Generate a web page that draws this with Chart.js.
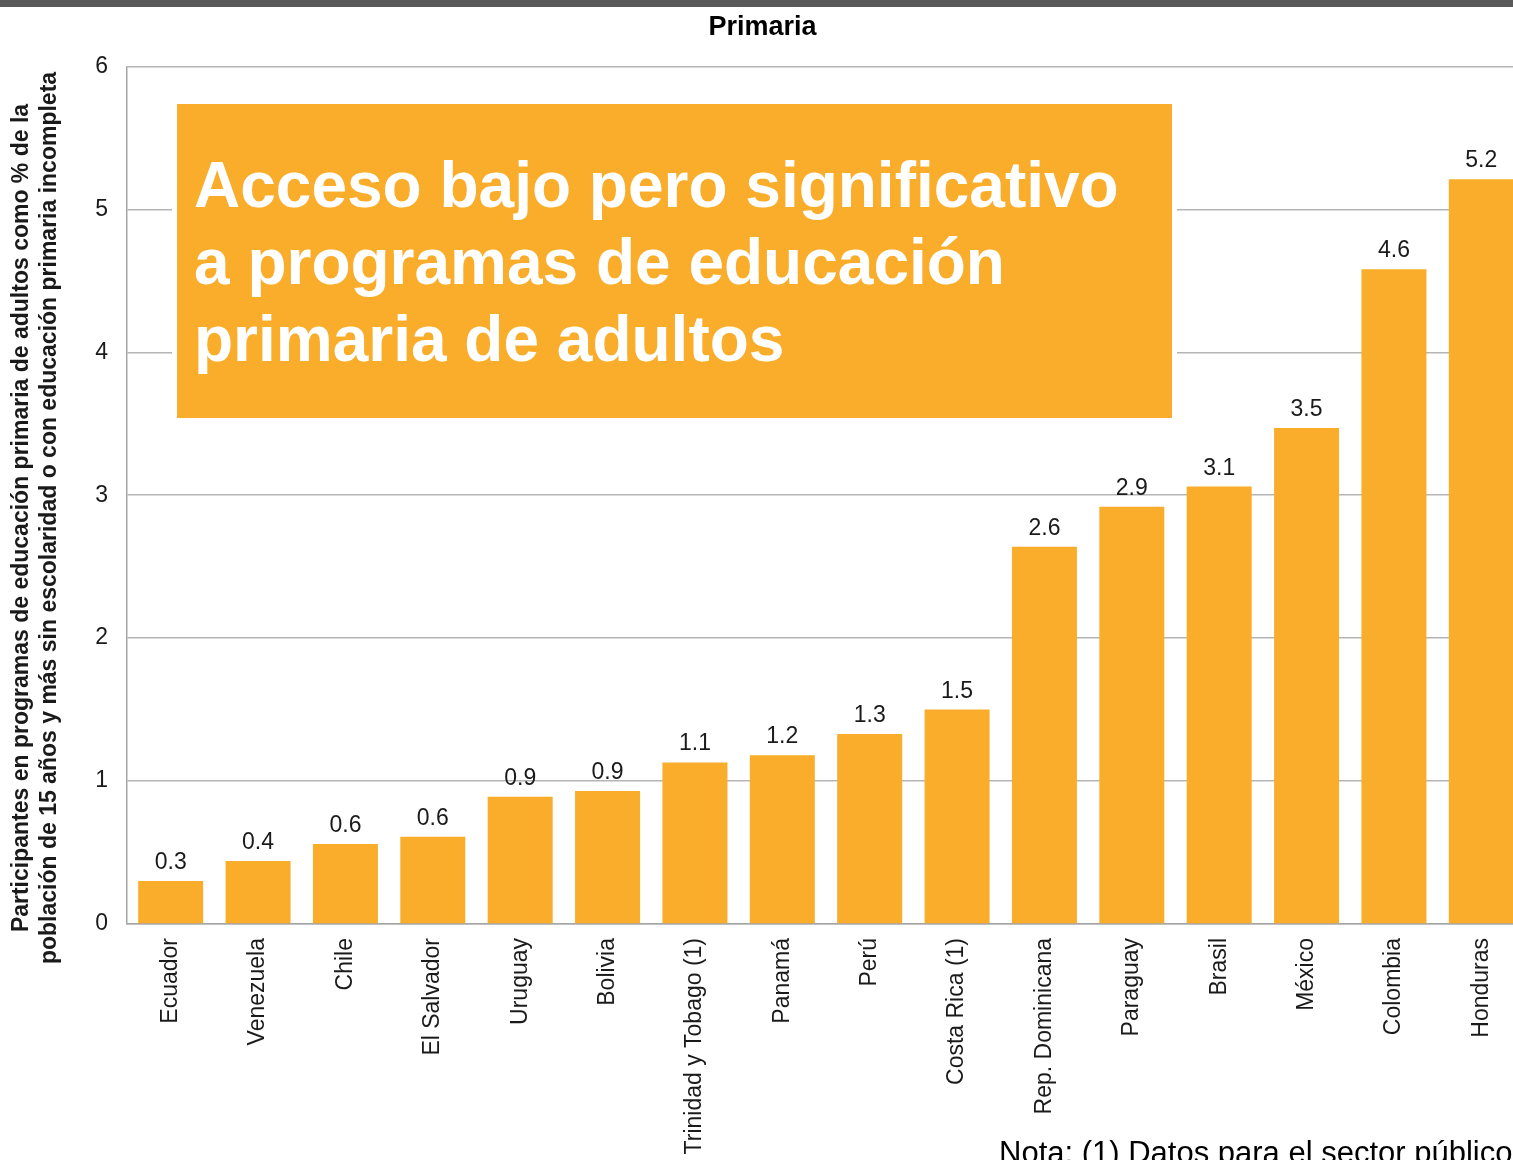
<!DOCTYPE html>
<html>
<head>
<meta charset="utf-8">
<script src="https://cdn.jsdelivr.net/npm/chart.js@4"></script>
<style>
  html, body { margin: 0; padding: 0; overflow: hidden; background: #fff; }
  #wrap { position: absolute; left: 0; top: 0; width: 1530px; height: 1160px; overflow: hidden; }
  #c { position: absolute; left: 0; top: 0; }
  #box {
    position: absolute; left: 177px; top: 104px; width: 995px; height: 314px;
    background: #F9AD2A; box-shadow: 0 0 0 5px #ffffff;
    box-sizing: border-box; padding: 43px 0 0 17px;
    font-family: "Liberation Sans", Arial, sans-serif; font-weight: bold;
    font-size: 64px; line-height: 77px; color: #ffffff; white-space: nowrap;
  }
  #note {
    position: absolute; left: 999px; top: 1137px;
    font-family: "Liberation Sans", Arial, sans-serif; font-size: 31px; line-height: 31px;
    color: #000; white-space: nowrap;
  }
</style>
</head>
<body>
<div id="wrap">
  <canvas id="c" width="1530" height="1160"></canvas>
  <div id="box">Acceso bajo pero significativo<br>a programas de educación<br>primaria de adultos</div>
  <div id="note">Nota: (1) Datos para el sector público</div>
</div>
<script>
const categories = ["Ecuador", "Venezuela", "Chile", "El Salvador", "Uruguay", "Bolivia",
  "Trinidad y Tobago (1)", "Panamá", "Perú", "Costa Rica (1)", "Rep. Dominicana",
  "Paraguay", "Brasil", "México", "Colombia", "Honduras"];
const values = [0.30, 0.44, 0.56, 0.61, 0.89, 0.93, 1.13, 1.18, 1.33, 1.50, 2.64, 2.92, 3.06, 3.47, 4.58, 5.21];
const valueLabels = ["0.3", "0.4", "0.6", "0.6", "0.9", "0.9", "1.1", "1.2", "1.3", "1.5", "2.6", "2.9", "3.1", "3.5", "4.6", "5.2"];
const yTicks = [0, 1, 2, 3, 4, 5, 6];
const chartTitle = "Primaria";
const yTitleLines = [
  "Participantes en programas de educación primaria de adultos como % de la",
  "población de 15 años y más sin escolaridad o con educación primaria incompleta"
];

const FONT = '"Liberation Sans", Arial, sans-serif';

const decorPlugin = {
  id: 'decor',
  beforeDraw(chart) {
    const ctx = chart.ctx;
    ctx.save();
    ctx.fillStyle = '#595959';
    ctx.fillRect(0, 0, chart.width, 7);
    ctx.restore();
  },
  afterDatasetsDraw(chart) {
    const ctx = chart.ctx;
    const meta = chart.getDatasetMeta(0);
    ctx.save();
    ctx.font = '23px ' + FONT;
    ctx.fillStyle = '#1a1a1a';
    ctx.textAlign = 'center';
    ctx.textBaseline = 'alphabetic';
    meta.data.forEach((bar, i) => {
      ctx.fillText(valueLabels[i], bar.x, bar.y - 12);
    });
    ctx.restore();
  },
  afterDraw(chart) {
    const ctx = chart.ctx;
    ctx.save();
    ctx.font = 'bold 23px ' + FONT;
    ctx.fillStyle = '#1a1a1a';
    ctx.textAlign = 'center';
    ctx.textBaseline = 'middle';
    ctx.translate(22, 518);
    ctx.rotate(-Math.PI / 2);
    yTitleLines.forEach((line, i) => ctx.fillText(line, 0, i * 28));
    ctx.restore();
  }
};

new Chart(document.getElementById('c'), {
  type: 'bar',
  data: {
    labels: categories,
    datasets: [{
      data: values,
      backgroundColor: '#F9AD2A',
      borderWidth: 0,
      barPercentage: 0.744,
      categoryPercentage: 1.0
    }]
  },
  options: {
    responsive: false,
    animation: false,
    devicePixelRatio: 1,
    layout: { padding: { left: 0, right: 5, top: 0, bottom: 0 } },
    plugins: {
      legend: { display: false },
      tooltip: { enabled: false },
      title: {
        display: true,
        text: chartTitle,
        color: '#000',
        font: { family: FONT, size: 27, weight: 'bold' },
        padding: { top: 11, bottom: 23 }
      }
    },
    scales: {
      x: {
        grid: { display: false, drawTicks: false },
        border: { display: true, color: '#A6A6A6', width: 1.5 },
        ticks: {
          autoSkip: false, minRotation: 90, maxRotation: 90, padding: 14,
          color: '#1a1a1a', font: { family: FONT, size: 23 }
        },
        afterFit(scale) { scale.height = 236; }
      },
      y: {
        min: 0, max: 6,
        afterBuildTicks(scale) { scale.ticks = yTicks.map(v => ({ value: v })); },
        grid: { color: '#B5B5B5', lineWidth: 1.5, drawTicks: false },
        border: { display: true, color: '#A6A6A6', width: 1.5 },
        ticks: {
          padding: 19, color: '#1a1a1a', font: { family: FONT, size: 23 }
        },
        afterFit(scale) { scale.width = 127; }
      }
    }
  },
  plugins: [decorPlugin]
});
</script>
</body>
</html>
